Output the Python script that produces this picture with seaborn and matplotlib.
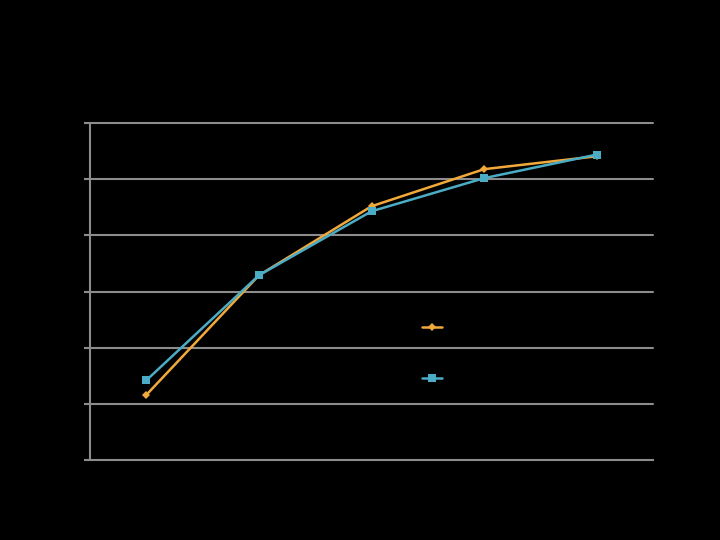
import matplotlib
matplotlib.use("Agg")
import matplotlib.pyplot as plt
import seaborn as sns
import pandas as pd
from matplotlib.lines import Line2D

# Data
categories = ["1", "2", "3", "4", "5"]
series_a_name = "Series1"
series_b_name = "Series2"
series_a = [11.6, 32.9, 45.2, 51.8, 54.1]
series_b = [14.2, 32.9, 44.3, 50.2, 54.4]
y_ticks = [0, 10, 20, 30, 40, 50, 60]

sns.set_theme(style="white")
plt.rcParams["font.family"] = ["DejaVu Sans"]

orange = "#F2A93B"
blue = "#4BACC6"
grid_c = "#8C8C8C"

df = pd.DataFrame({
    "pos": list(range(len(categories))) * 2,
    "value": series_a + series_b,
    "series": [series_a_name] * len(series_a) + [series_b_name] * len(series_b),
})

fig = plt.figure(figsize=(7.2, 5.4), dpi=100, facecolor="black")
ax = fig.add_axes([0.125, 0.148, 0.782, 0.624])
ax.set_facecolor("black")

sns.lineplot(data=df, x="pos", y="value", hue="series", style="series",
             palette={series_a_name: orange, series_b_name: blue},
             markers={series_a_name: "D", series_b_name: "s"},
             dashes=False, markersize=5, linewidth=1.8,
             markeredgewidth=0, ax=ax, legend=False, zorder=3)
for line, ms in zip(ax.get_lines(), [4.5, 5.5]):
    line.set_markersize(ms)

ax.set_xlim(-0.5, len(categories) - 0.5)
ax.set_ylim(y_ticks[0], y_ticks[-1])
ax.set_yticks(y_ticks)
ax.set_yticklabels([str(t) for t in y_ticks], color="black")
ax.set_xticks(range(len(categories)))
ax.set_xticklabels(categories, color="black")
ax.set_xlabel("")
ax.set_ylabel("")

ax.grid(False)
for t in y_ticks[1:]:
    ax.axhline(t, color=grid_c, linewidth=1.5, zorder=1, clip_on=False)

for s in ["top", "right"]:
    ax.spines[s].set_visible(False)
ax.spines["left"].set_color(grid_c)
ax.spines["left"].set_linewidth(1.5)
ax.spines["bottom"].set_color(grid_c)
ax.spines["bottom"].set_linewidth(1.5)
ax.tick_params(axis="y", which="both", left=True, length=4, width=1.5, color=grid_c, labelcolor="black")
ax.tick_params(axis="x", which="both", bottom=False, labelcolor="black")

handles = [
    Line2D([0], [0], color=orange, marker="D", markersize=4.5, markeredgewidth=0, linewidth=1.8),
    Line2D([0], [0], color=blue, marker="s", markersize=5.5, markeredgewidth=0, linewidth=1.8),
]
leg = ax.legend(handles, [series_a_name, series_b_name], loc="upper left",
                bbox_to_anchor=(0.563, 0.463), frameon=False, labelspacing=1.95,
                handlelength=1.2, fontsize=12)
for txt in leg.get_texts():
    txt.set_color("black")

fig.suptitle("Chart Title", color="black", y=0.93, fontsize=16)

fig.savefig("out.png", dpi=100, facecolor="black")
